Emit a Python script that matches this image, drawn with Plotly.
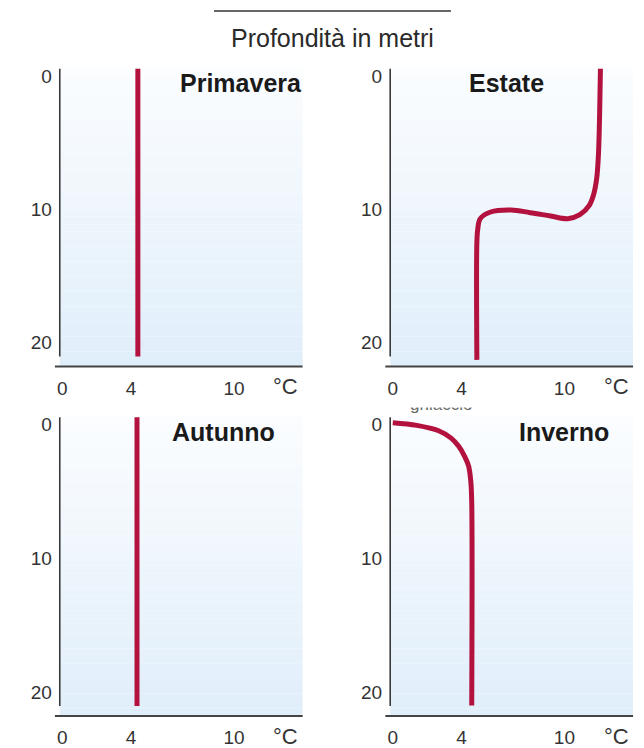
import plotly.graph_objects as go

# page body adds an 8px margin; coordinates below are in reference-page pixels
OFF = 8
W, H = 644 - OFF, 748 - OFF

# ---------------- data ----------------
x_ticks = [0, 4, 10]
y_ticks = [0, 10, 20]

spring_depth = [-0.55, 21.05]
spring_temp = [4.4, 4.4]

autumn_depth = [-0.55, 21.05]
autumn_temp = [4.35, 4.35]

summer_temp = [12.1, 12.05, 11.98, 11.88, 11.7, 11.45, 10.9, 10.2, 9.2, 8.0, 6.9, 5.7, 5.1, 4.95, 4.9, 4.9]
summer_depth = [-0.55, 3.0, 6.0, 7.7, 8.9, 9.7, 10.4, 10.7, 10.5, 10.25, 10.05, 10.2, 10.7, 11.5, 12.5, 21.3]

winter_temp = [0.0, 1.4, 2.67, 3.4, 3.83, 4.2, 4.42, 4.55, 4.6, 4.6]
winter_depth = [-0.15, 0.05, 0.45, 1.0, 1.6, 2.4, 3.1, 4.3, 5.8, 21.0]

season_names = ["Primavera", "Estate", "Autunno", "Inverno"]

# ---------------- layout helpers ----------------
def px_x(p):
    return (p - OFF) / W

def px_y(p):
    return 1 - (p - OFF) / H

RED = "#b3123f"
TXT = "#333333"
FONT = "Liberation Sans, Arial, Helvetica, sans-serif"

fig = go.Figure()

panels = [
    dict(name=season_names[0], t=spring_temp, d=spring_depth, ax="x", ay="y", xd=[57, 301], yd=[66, 367], title_xy=(239, 82)),
    dict(name=season_names[1], t=summer_temp, d=summer_depth, ax="x2", ay="y2", xd=[389, 633], yd=[66, 367], title_xy=(506, 82)),
    dict(name=season_names[2], t=autumn_temp, d=autumn_depth, ax="x3", ay="y3", xd=[57, 301], yd=[416, 718], title_xy=(222, 433)),
    dict(name=season_names[3], t=winter_temp, d=winter_depth, ax="x4", ay="y4", xd=[389, 633], yd=[416, 718], title_xy=(564, 433)),
]

shapes = []
annotations = []
layout_axes = {}

top_col = (251, 253, 255)
bot_col = (224, 238, 250)
NSTRIP = 40

for i, p in enumerate(panels):
    fig.add_trace(go.Scatter(
        x=p["t"], y=p["d"], mode="lines",
        line=dict(color=RED, width=5, shape="spline", smoothing=1.0),
        xaxis=p["ax"], yaxis=p["ay"], showlegend=False, hoverinfo="skip",
    ))
    xname = "xaxis" if i == 0 else f"xaxis{i+1}"
    yname = "yaxis" if i == 0 else f"yaxis{i+1}"
    layout_axes[xname] = dict(
        domain=[px_x(p["xd"][0]), px_x(p["xd"][1])],
        range=[-0.15, 14.0], anchor=p["ay"],
        showgrid=False, zeroline=False, showline=False,
        tickmode="array", tickvals=x_ticks, ticktext=[str(v) for v in x_ticks],
        ticks="", tickfont=dict(family=FONT, size=19, color=TXT),
        ticklabelstandoff=8,
    )
    layout_axes[yname] = dict(
        domain=[px_y(p["yd"][1]), px_y(p["yd"][0])],
        range=[21.8, -0.7], anchor=p["ax"],
        showgrid=False, zeroline=False, showline=False,
        tickmode="array", tickvals=y_ticks, ticktext=[str(v) for v in y_ticks],
        ticks="", tickfont=dict(family=FONT, size=19, color=TXT),
        ticklabelstandoff=7,
    )
    xr = p["ax"] + " domain"
    yr = p["ay"] + " domain"
    # gradient background
    for k in range(NSTRIP):
        f = (k + 0.5) / NSTRIP
        c = tuple(int(round(top_col[j] + (bot_col[j] - top_col[j]) * f)) for j in range(3))
        shapes.append(dict(
            type="rect", xref=xr, yref=yr, x0=0, x1=1,
            y0=1 - (k + 1) / NSTRIP, y1=1 - k / NSTRIP,
            fillcolor=f"rgb{c}", line=dict(width=0), layer="below",
        ))
    # y axis line (stops short of x axis)
    shapes.append(dict(type="line", xref=xr, yref=p["ay"], x0=0, x1=0, y0=21.05, y1=-0.55,
                       line=dict(color="#3a3a3a", width=1.6)))
    # x axis line
    shapes.append(dict(type="line", xref=xr, yref=yr, x0=-0.02, x1=1, y0=0, y1=0,
                       line=dict(color="#444444", width=2)))
    # title
    annotations.append(dict(
        text=f"<b>{p['name']}</b>", x=px_x(p["title_xy"][0]), y=px_y(p["title_xy"][1]),
        xref="paper", yref="paper", showarrow=False, xanchor="center", yanchor="middle",
        font=dict(family=FONT, size=25, color="#1a1a1a"),
    ))
    # °C unit
    annotations.append(dict(
        text="°C", x=px_x(p["xd"][1] - 17), y=px_y(p["yd"][1] + 20),
        xref="paper", yref="paper", showarrow=False, xanchor="center", yanchor="middle",
        font=dict(family=FONT, size=22, color=TXT),
    ))

# header
annotations.append(dict(
    text="Profondità in metri", x=px_x(331), y=px_y(37), xref="paper", yref="paper",
    showarrow=False, xanchor="center", yanchor="middle",
    font=dict(family=FONT, size=25, color="#2a2a2a"),
))
shapes.append(dict(type="line", xref="paper", yref="paper",
                   x0=px_x(212), x1=px_x(450), y0=px_y(10), y1=px_y(10),
                   line=dict(color="#333333", width=1.5)))

# partially hidden label "ghiaccio" (only the bottom of the glyphs visible)
annotations.append(dict(
    text="ghiaccio", x=px_x(440), y=px_y(405), xref="paper", yref="paper",
    showarrow=False, xanchor="center", yanchor="middle",
    font=dict(family=FONT, size=17, color="#666666"),
))
annotations.append(dict(
    text=" ", x=px_x(440), y=px_y(403), xref="paper", yref="paper",
    showarrow=False, xanchor="center", yanchor="middle",
    width=80, height=10, bgcolor="#ffffff", borderpad=0,
))

fig.update_layout(
    width=W, height=H,
    margin=dict(l=0, r=0, t=0, b=0),
    paper_bgcolor="#ffffff", plot_bgcolor="rgba(0,0,0,0)",
    shapes=shapes, annotations=annotations,
    showlegend=False,
    **layout_axes,
)

fig.write_html("out.html")
